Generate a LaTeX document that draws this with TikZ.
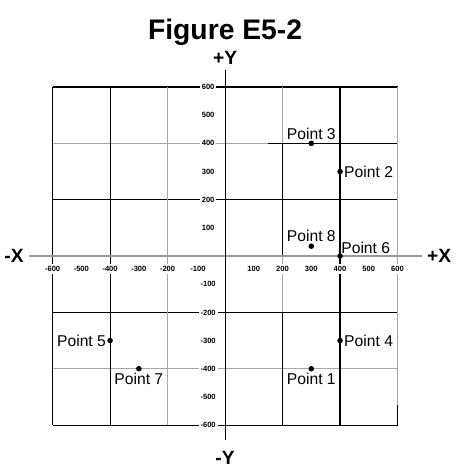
\documentclass[tikz,border=0pt]{standalone}
\usepackage{fontspec}
\setmainfont{Liberation Sans}
\usetikzlibrary{positioning}

\tikzset{
  gridline/.style={line width=1.1pt,black},
  grayline/.style={line width=1.1pt,black!35},
  xaxis/.style={line width=1.8pt,black!40},
  yaxis/.style={line width=1.1pt,black},
  tick/.style={fill=white,inner sep=2pt,font=\fontsize{7.5}{8}\selectfont\bfseries},
  axislabel/.style={font=\fontsize{19}{21}\selectfont\bfseries,inner sep=0pt},
  dot/.style={circle,fill=black,inner sep=0pt,minimum size=5.5pt},
  ptlabel/.style={font=\fontsize{15.5}{17}\selectfont,inner sep=1pt}
}

\begin{document}
\begin{tikzpicture}[x=1cm,y=0.98cm]
    \useasboundingbox (-7.83,-7.63) rectangle (8.17,9.09);

    \node[font=\fontsize{28}{32}\selectfont\bfseries,anchor=base] (title) at (0,7.70) {Figure E5-2};

    \draw[gridline] (-6,6) -- (6,6);
    \draw[gridline] (-6,2) -- (6,2);
    \draw[gridline] (-6,-2) -- (6,-2);
    \draw[gridline] (-6,-6) -- (6,-6);
    \draw[grayline] (-6,4) -- (1.5,4);
    \draw[gridline] (1.5,4) -- (6,4);
    \draw[grayline] (-6,-4) -- (6,-4);

    \draw[gridline] (-6,6) -- (-6,-6);
    \draw[gridline] (-4,6) -- (-4,-6);
    \draw[grayline] (-2,6) -- (-2,-6);
    \draw[grayline] (2,6) -- (2,4);
    \draw[gridline] (2,4) -- (2,0);
    \draw[grayline] (2,0) -- (2,-2);
    \draw[gridline] (2,-2) -- (2,-6);
    \draw[gridline] (4,6) -- (4,-6);
    \draw[grayline] (6,6) -- (6,-5.3);
    \draw[gridline] (6,-5.3) -- (6,-6);

    \coordinate (xl) at (-6.82,0);
    \coordinate (xr) at (6.85,0);
    \coordinate (yt) at (0,6.60);
    \coordinate (yb) at (0,-6.53);
    \draw[xaxis] (xl) -- (xr);
    \draw[yaxis] (yt) -- (yb);

    \node[axislabel] (px) at (7.45,0) {+X};
    \node[axislabel] (mx) at (-7.34,0) {-X};
    \node[axislabel,anchor=base] (py) at (0,6.81) {+Y};
    \node[axislabel,anchor=base] (my) at (0,-7.40) {-Y};

    \node[tick] (xm6) at (-6,-0.46) {-600};
    \node[tick] (xm5) at (-5,-0.46) {-500};
    \node[tick] (xm4) at (-4,-0.46) {-400};
    \node[tick] (xm3) at (-3,-0.46) {-300};
    \node[tick] (xm2) at (-2,-0.46) {-200};
    \node[tick] (xm1) at (-0.94,-0.46) {-100};
    \node[tick] (x1) at (1,-0.46) {100};
    \node[tick] (x2) at (2,-0.46) {200};
    \node[tick] (x3) at (3,-0.46) {300};
    \node[tick] (x4) at (4,-0.46) {400};
    \node[tick] (x5) at (5,-0.46) {500};
    \node[tick] (x6) at (6,-0.46) {600};

    \node[tick] (y6) at (-0.59,6) {600};
    \node[tick] (y5) at (-0.59,5) {500};
    \node[tick] (y4) at (-0.59,4) {400};
    \node[tick] (y3) at (-0.59,3) {300};
    \node[tick] (y2) at (-0.59,2) {200};
    \node[tick] (y1) at (-0.59,1) {100};
    \node[tick] (ym1) at (-0.59,-1) {-100};
    \node[tick] (ym2) at (-0.59,-2) {-200};
    \node[tick] (ym3) at (-0.59,-3) {-300};
    \node[tick] (ym4) at (-0.59,-4) {-400};
    \node[tick] (ym5) at (-0.59,-5) {-500};
    \node[tick] (ym6) at (-0.59,-6) {-600};

    \node[dot] (p1) at (3,-4) {};
    \node[dot] (p2) at (4,3) {};
    \node[dot] (p3) at (3,4) {};
    \node[dot] (p4) at (4,-3) {};
    \node[dot] (p5) at (-4,-3) {};
    \node[dot] (p6) at (4,0) {};
    \node[dot] (p7) at (-3,-4) {};
    \node[dot] (p8) at (3,0.35) {};

    \node[ptlabel,below=0pt of p1] (l1) {Point 1};
    \node[ptlabel,right=0pt of p2] (l2) {Point 2};
    \node[ptlabel,above=0pt of p3] (l3) {Point 3};
    \node[ptlabel,right=0pt of p4] (l4) {Point 4};
    \node[ptlabel,left=0pt of p5] (l5) {Point 5};
    \node[ptlabel,above right=-1pt and -2pt of p6] (l6) {Point 6};
    \node[ptlabel,below=0pt of p7] (l7) {Point 7};
    \node[ptlabel,above=0pt of p8] (l8) {Point 8};
  \end{tikzpicture}
\end{document}
